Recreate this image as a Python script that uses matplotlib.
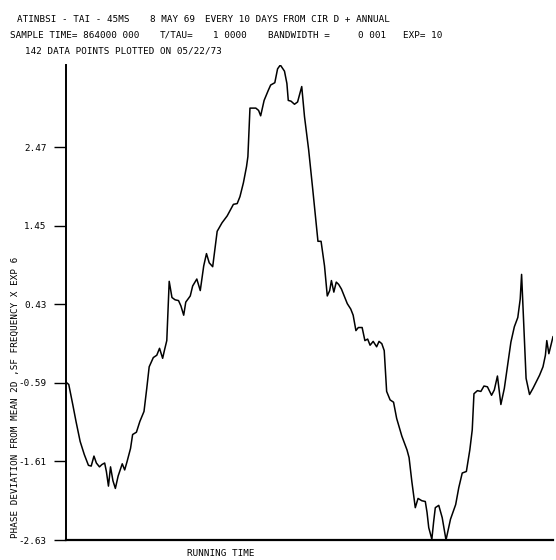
import matplotlib
matplotlib.use('Agg')
import matplotlib.pyplot as plt

# Data: running time (days, every 10 days) and phase deviation
days = [0, 8, 20, 29, 41, 53, 65, 73, 81, 88, 97, 104, 112, 117, 123, 129, 136, 143,
        151, 163, 170, 177, 187, 193, 204, 214, 226, 234, 241, 253, 263, 271, 280, 285,
        292, 299, 307, 316, 326, 333, 341, 347, 360, 367, 379, 389, 399, 407, 415, 425,
        438, 452, 467, 485, 496, 504, 514, 523, 527, 533, 550, 558, 564, 574, 586, 593,
        605, 613, 621, 633, 640, 644, 652, 662, 671, 683, 691, 703, 715, 730, 739, 749,
        757, 764, 769, 776, 783, 790, 798, 808, 815, 825, 832, 840, 847, 858, 866, 874,
        881, 890, 900, 907, 915, 922, 929, 939, 949, 958, 973, 988, 994, 1002, 1012, 1020,
        1031, 1041, 1046, 1051, 1060, 1065, 1070, 1080, 1090, 1101, 1114, 1129, 1138, 1148,
        1160, 1170, 1177, 1182, 1192, 1202, 1211, 1221, 1233, 1241, 1250, 1260, 1270, 1279,
        1289, 1299, 1309, 1316, 1320, 1333, 1343, 1353, 1363, 1372, 1382, 1389, 1393, 1399,
        1406, 1411]
phase = [-0.58, -0.61, -0.88, -1.09, -1.35, -1.52, -1.66, -1.67, -1.54, -1.63, -1.68, -1.65,
         -1.63, -1.74, -1.93, -1.68, -1.86, -1.96, -1.80, -1.64, -1.72, -1.61, -1.44, -1.26,
         -1.23, -1.09, -0.96, -0.66, -0.38, -0.26, -0.23, -0.14, -0.27, -0.17, -0.04, 0.73,
         0.52, 0.49, 0.48, 0.41, 0.29, 0.46, 0.54, 0.67, 0.76, 0.61, 0.93, 1.09, 0.97, 0.92,
         1.38, 1.49, 1.58, 1.73, 1.74, 1.83, 2.01, 2.22, 2.35, 2.98, 2.98, 2.95, 2.88, 3.08,
         3.21, 3.28, 3.31, 3.49, 3.54, 3.46, 3.30, 3.08, 3.07, 3.03, 3.06, 3.26, 2.87, 2.44,
         1.92, 1.25, 1.25, 0.93, 0.54, 0.61, 0.74, 0.59, 0.72, 0.69, 0.63, 0.52, 0.44, 0.37,
         0.29, 0.09, 0.13, 0.13, -0.04, -0.02, -0.10, -0.05, -0.12, -0.05, -0.08, -0.17,
         -0.70, -0.81, -0.84, -1.05, -1.28, -1.46, -1.56, -1.87, -2.21, -2.09, -2.12, -2.13,
         -2.27, -2.47, -2.62, -2.40, -2.21, -2.18, -2.34, -2.63, -2.36, -2.17, -1.95, -1.76,
         -1.74, -1.46, -1.20, -0.73, -0.69, -0.70, -0.63, -0.64, -0.75, -0.68, -0.50, -0.87,
         -0.66, -0.38, -0.06, 0.14, 0.26, 0.50, 0.82, -0.53, -0.74, -0.66, -0.57, -0.49,
         -0.38, -0.23, -0.04, -0.21, -0.08, 0.01]

yticks = [2.47, 1.45, 0.43, -0.59, -1.61, -2.63]
ytick_labels = ['2.47', '1.45', '0.43', '-0.59', '-1.61', '-2.63']

mono = 'DejaVu Sans Mono'
fs = 6.7

fig = plt.figure(figsize=(5.56, 5.60), dpi=100)
ax = fig.add_axes([66/556, 20/560, 487/556, 475/560])

ax.plot(days, phase, color='black', linewidth=1.1)
ax.set_xlim(0, 1411)
ax.set_ylim(-2.63, 3.54)

ax.spines['top'].set_visible(False)
ax.spines['right'].set_visible(False)
ax.spines['left'].set_linewidth(1.4)
ax.spines['bottom'].set_linewidth(1.6)

ax.set_xticks([])
ax.set_yticks(yticks)
ax.set_yticklabels(ytick_labels, fontfamily=mono, fontsize=fs)
ax.tick_params(axis='y', direction='out', length=9, width=1.0, pad=5)

def put(x, y, s, **kw):
    fig.text(x/556, 1 - y/560, s, fontfamily=mono, fontsize=fs, va='center', **kw)

# header text
put(17, 19, 'ATINBSI - TAI - 45MS')
put(150, 19, '8 MAY 69')
put(205, 19, 'EVERY 10 DAYS')
put(283, 19, 'FROM CIR D + ANNUAL')

put(10, 35, 'SAMPLE TIME= 864000 000')
put(160, 35, 'T/TAU=')
put(213, 35, '1 0000')
put(268, 35, 'BANDWIDTH =')
put(358, 35, '0 001')
put(403, 35, 'EXP= 10')

put(25, 51, '142 DATA POINTS PLOTTED ON 05/22/73')

put(221, 553, 'RUNNING TIME', ha='center')
put(15, 397, 'PHASE DEVIATION FROM MEAN 2D ,SF FREQUENCY X EXP 6', rotation=90, ha='center')

plt.savefig('out.png', dpi=100)
